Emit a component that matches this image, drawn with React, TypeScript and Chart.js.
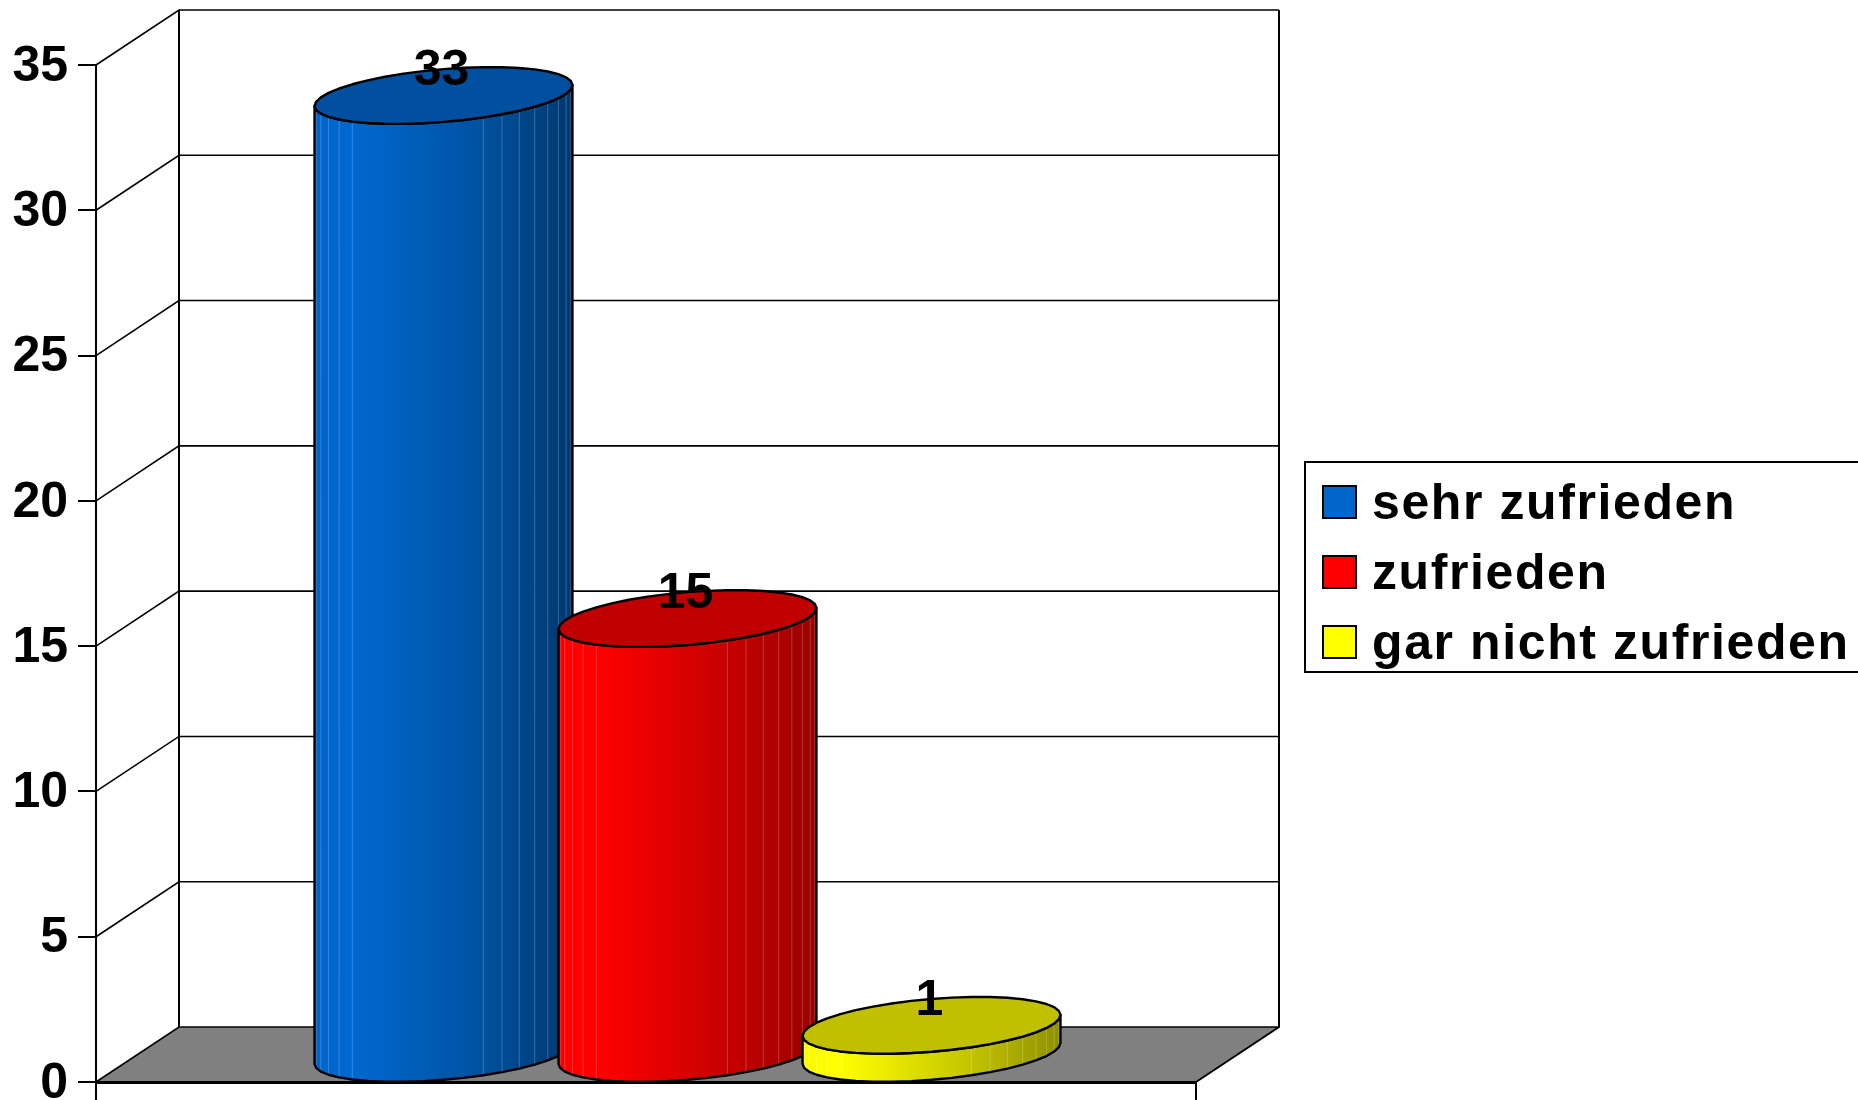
import React, { useEffect, useRef } from "react";
import { Chart, registerables } from "chart.js";

Chart.register(...registerables);

const categories = [""];
const seriesNames = ["sehr zufrieden", "zufrieden", "gar nicht zufrieden"];
const seriesValues = [33, 15, 1];
const legendColors = ["#0066cc", "#ff0000", "#ffff00"];
const topColors = ["#00509f", "#c00000", "#c0c000"];
const sideStops = [
  ["#0064c8", "#0068d0", "#00519f", "#00386f"],
  ["#fc0000", "#ff0000", "#c80000", "#990000"],
  ["#fcfc00", "#ffff00", "#c4c400", "#8f8f00"],
];
const FONT = '"Liberation Sans", Arial, sans-serif';
const DX = 83;
const DY = 55;

function ellipsePts(cx: number, cy: number, a: number, b: number, s: number, from: number, to: number, n: number) {
  const pts: [number, number][] = [];
  for (let i = 0; i <= n; i++) {
    const t = from + ((to - from) * i) / n;
    pts.push([cx + a * Math.cos(t), cy + b * Math.sin(t) + s * Math.cos(t)]);
  }
  return pts;
}

function trace(ctx: CanvasRenderingContext2D, pts: [number, number][], move = true) {
  pts.forEach((p, i) => (i === 0 && move ? ctx.moveTo(p[0], p[1]) : ctx.lineTo(p[0], p[1])));
}

const scene3d = {
  id: "scene3d",
  beforeDraw(chart: any) {
    const { ctx, chartArea: ca, scales } = chart;
    const y = scales.y;
    ctx.save();
    ctx.fillStyle = "#ffffff";
    ctx.fillRect(0, 0, chart.width, chart.height);
    ctx.fillStyle = "#808080";
    ctx.beginPath();
    ctx.moveTo(ca.left, ca.bottom);
    ctx.lineTo(ca.left + DX, ca.bottom - DY);
    ctx.lineTo(ca.right + DX, ca.bottom - DY);
    ctx.lineTo(ca.right, ca.bottom);
    ctx.closePath();
    ctx.fill();
    ctx.strokeStyle = "#000000";
    ctx.lineWidth = 1.6;
    y.ticks.forEach((t: any) => {
      const py = y.getPixelForValue(t.value);
      ctx.beginPath();
      ctx.moveTo(ca.left, py);
      ctx.lineTo(ca.left + DX, py - DY);
      ctx.lineTo(ca.right + DX, py - DY);
      ctx.stroke();
    });
    ctx.lineWidth = 2;
    ctx.beginPath();
    ctx.moveTo(ca.left + DX, ca.bottom - DY);
    ctx.lineTo(ca.left + DX, ca.top - DY);
    ctx.moveTo(ca.right + DX, ca.top - DY);
    ctx.lineTo(ca.right + DX, ca.bottom - DY);
    ctx.lineTo(ca.right, ca.bottom);
    ctx.stroke();
    ctx.restore();
  },
  beforeDatasetsDraw(chart: any) {
    const { ctx } = chart;
    ctx.save();
    const labels: [string, number, number][] = [];
    chart.data.datasets.forEach((ds: any, i: number) => {
      const el = chart.getDatasetMeta(i).data[0];
      const { x, y, base, width } = el.getProps(["x", "y", "base", "width"], true);
      const cx = x + DX / 2;
      const a = width / 2;
      const b = 26.4;
      const s = -10.5;
      const topC = y - 27.6;
      const botC = base - 27.6;
      const N = 20;
      const lowerTop = ellipsePts(cx, topC, a, b, s, 0, Math.PI, N);
      const lowerBot = ellipsePts(cx, botC, a, b, s, Math.PI, 0, N);

      const grad = ctx.createLinearGradient(cx - a, 0, cx + a, 0);
      const st = sideStops[i];
      grad.addColorStop(0, st[0]);
      grad.addColorStop(0.15, st[1]);
      grad.addColorStop(0.65, st[2]);
      grad.addColorStop(1, st[3]);
      ctx.beginPath();
      trace(ctx, lowerTop);
      trace(ctx, lowerBot, false);
      ctx.closePath();
      ctx.fillStyle = grad;
      ctx.fill();

      ctx.strokeStyle = "rgba(255,255,255,0.22)";
      ctx.lineWidth = 1;
      lowerTop.forEach((p, k) => {
        if (k === 0 || k === N) return;
        const norm = (p[0] - (cx - a)) / (2 * a);
        if (norm > 0.19 && norm < 0.59) return;
        const q = lowerBot[N - k];
        ctx.beginPath();
        ctx.moveTo(p[0], p[1]);
        ctx.lineTo(q[0], q[1]);
        ctx.stroke();
      });

      ctx.strokeStyle = "#000000";
      ctx.lineWidth = 2.4;
      ctx.lineJoin = "round";
      ctx.beginPath();
      trace(ctx, lowerTop);
      trace(ctx, lowerBot, false);
      ctx.closePath();
      ctx.stroke();

      const top = ellipsePts(cx, topC, a, b, s, 0, Math.PI * 2, N * 2);
      ctx.beginPath();
      trace(ctx, top);
      ctx.closePath();
      ctx.fillStyle = topColors[i];
      ctx.fill();
      ctx.stroke();

      labels.push([String(ds.data[0]), cx - 2, y - 52]);
    });
    ctx.fillStyle = "#000000";
    ctx.font = `bold 50px ${FONT}`;
    ctx.textAlign = "center";
    ctx.textBaseline = "middle";
    labels.forEach(([t, lx, ly]) => ctx.fillText(t, lx, ly));
    ctx.restore();
    return false;
  },
  afterDraw(chart: any) {
    const { ctx } = chart;
    ctx.save();
    ctx.strokeStyle = "#000000";
    ctx.lineWidth = 2;
    ctx.strokeRect(1305, 462, 620, 210);
    ctx.font = `bold 50px ${FONT}`;
    (ctx as any).letterSpacing = "1.6px";
    ctx.textAlign = "left";
    ctx.textBaseline = "alphabetic";
    chart.data.datasets.forEach((ds: any, i: number) => {
      const cy = 502 + i * 70;
      ctx.fillStyle = ds.backgroundColor;
      ctx.fillRect(1323, cy - 16, 33, 32);
      ctx.strokeRect(1323, cy - 16, 33, 32);
      ctx.fillStyle = "#000000";
      ctx.fillText(ds.label, 1372, cy + 17);
    });
    ctx.restore();
  },
};

export default function App() {
  const ref = useRef<HTMLCanvasElement>(null);
  useEffect(() => {
    const chart = new Chart(ref.current as HTMLCanvasElement, {
      type: "bar",
      data: {
        labels: categories,
        datasets: seriesNames.map((label, i) => ({
          label,
          data: [seriesValues[i]],
          backgroundColor: legendColors[i],
          categoryPercentage: 0.6655,
          barPercentage: 1.057,
        })),
      },
      options: {
        animation: false,
        responsive: false,
        devicePixelRatio: 1,
        layout: { padding: { left: 0, top: 65, right: 662, bottom: 0 } },
        plugins: { legend: { display: false }, tooltip: { enabled: false } },
        scales: {
          x: {
            offset: true,
            ticks: { display: false },
            grid: { offset: true, drawOnChartArea: false, drawTicks: true, tickLength: 18, color: "#000000", lineWidth: 2 },
            border: { display: true, color: "#000000", width: 3 },
            afterFit: (s: any) => {
              s.height = 18;
              s.paddingLeft = 0;
              s.paddingRight = 0;
            },
          },
          y: {
            min: 0,
            max: 35,
            ticks: { stepSize: 5, padding: 10, labelOffset: 2, color: "#000000", font: { family: FONT, size: 50, weight: "bold" } },
            grid: { drawOnChartArea: false, drawTicks: true, tickLength: 18, color: "#000000", lineWidth: 2 },
            border: { display: true, color: "#000000", width: 2 },
            afterFit: (s: any) => {
              s.width = 96;
              s.paddingTop = 0;
              s.paddingBottom = 0;
            },
          },
        },
      } as any,
      plugins: [scene3d as any],
    });
    return () => chart.destroy();
  }, []);
  return (
    <canvas
      ref={ref}
      width={1858}
      height={1100}
      style={{ position: "absolute", left: 0, top: 0, display: "block" }}
    />
  );
}
